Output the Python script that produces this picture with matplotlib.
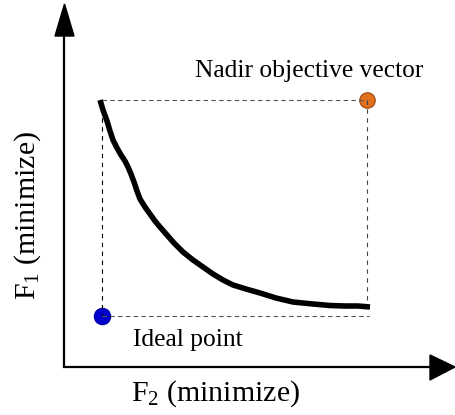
import matplotlib
matplotlib.use("Agg")
import matplotlib.pyplot as plt
from matplotlib.patches import Polygon

plt.rcParams['font.family'] = ['Liberation Serif', 'DejaVu Serif']
plt.rcParams['mathtext.fontset'] = 'custom'
plt.rcParams['mathtext.rm'] = 'Liberation Serif'
plt.rcParams['mathtext.it'] = 'Liberation Serif:italic'

# Pareto front (pixel-like coordinates, y down)
curve_x = [100, 103, 107, 110, 113, 117, 121, 125, 128, 131, 134, 137, 140, 145, 150, 155, 160,
           167, 174, 183, 193, 203, 213, 223, 233, 246, 260, 276, 293, 313, 330, 345, 358, 370]
curve_y = [100, 110, 121, 131, 140, 148, 155, 161, 167, 174, 182, 191, 199, 207, 214, 221, 227,
           235, 243, 252, 260, 267, 274, 280, 285, 289, 293, 298, 302, 304, 305.5, 306, 306, 307]

ideal = (102, 316)
nadir = (367, 100)

x_label = 'F$_{2}$ (minimize)'
y_label = 'F$_{1}$ (minimize)'
nadir_label = 'Nadir objective vector'
ideal_label = 'Ideal point'

fig = plt.figure(figsize=(4.55, 4.15), dpi=100)
ax = fig.add_axes([0, 0, 1, 1])
ax.set_xlim(0, 455)
ax.set_ylim(415, 0)
ax.axis('off')

# axes with arrows
ax.plot([64, 64], [30, 368], color='black', lw=1.6, solid_capstyle='butt')
ax.plot([63, 435], [367, 367], color='black', lw=1.6, solid_capstyle='butt')
ax.add_patch(Polygon([[64.5, 4], [55, 36], [74, 36]], closed=True, color='black'))
ax.add_patch(Polygon([[455, 367], [430, 355], [430, 380]], closed=True, color='black'))

# dashed box
ax.plot([ideal[0], ideal[0]], [nadir[1], ideal[1]], color='black', lw=0.8, dashes=(4, 4))
ax.plot([nadir[0], nadir[0]], [nadir[1], ideal[1] - 8], color='#444444', lw=0.8, dashes=(4, 4))
ax.plot([ideal[0], nadir[0]], [nadir[1], nadir[1]], color='#555555', lw=0.8, dashes=(4, 3))
ax.plot([ideal[0], nadir[0] + 2], [ideal[1], ideal[1]], color='#555555', lw=0.8, dashes=(4, 3))

# points
ax.scatter([ideal[0]], [ideal[1]], s=135, color='#0000CC', edgecolor='#0000AA', zorder=1)
ax.scatter([nadir[0]], [nadir[1]], s=125, color='#E2711D', edgecolor='#9A4A10', lw=0.8, zorder=1)

# front
ax.plot(curve_x, curve_y, color='black', lw=4.0, solid_capstyle='butt', solid_joinstyle='round', zorder=3)

# text
ax.text(309, 71, nadir_label, fontsize=18.4, ha='center', va='center')
ax.text(188, 340, ideal_label, fontsize=18.4, ha='center', va='center')
ax.text(216, 394, x_label, fontsize=21.5, ha='center', va='center')
ax.text(28, 215, y_label, fontsize=21.5, ha='center', va='center', rotation=90)

fig.savefig('out.png', dpi=100)
